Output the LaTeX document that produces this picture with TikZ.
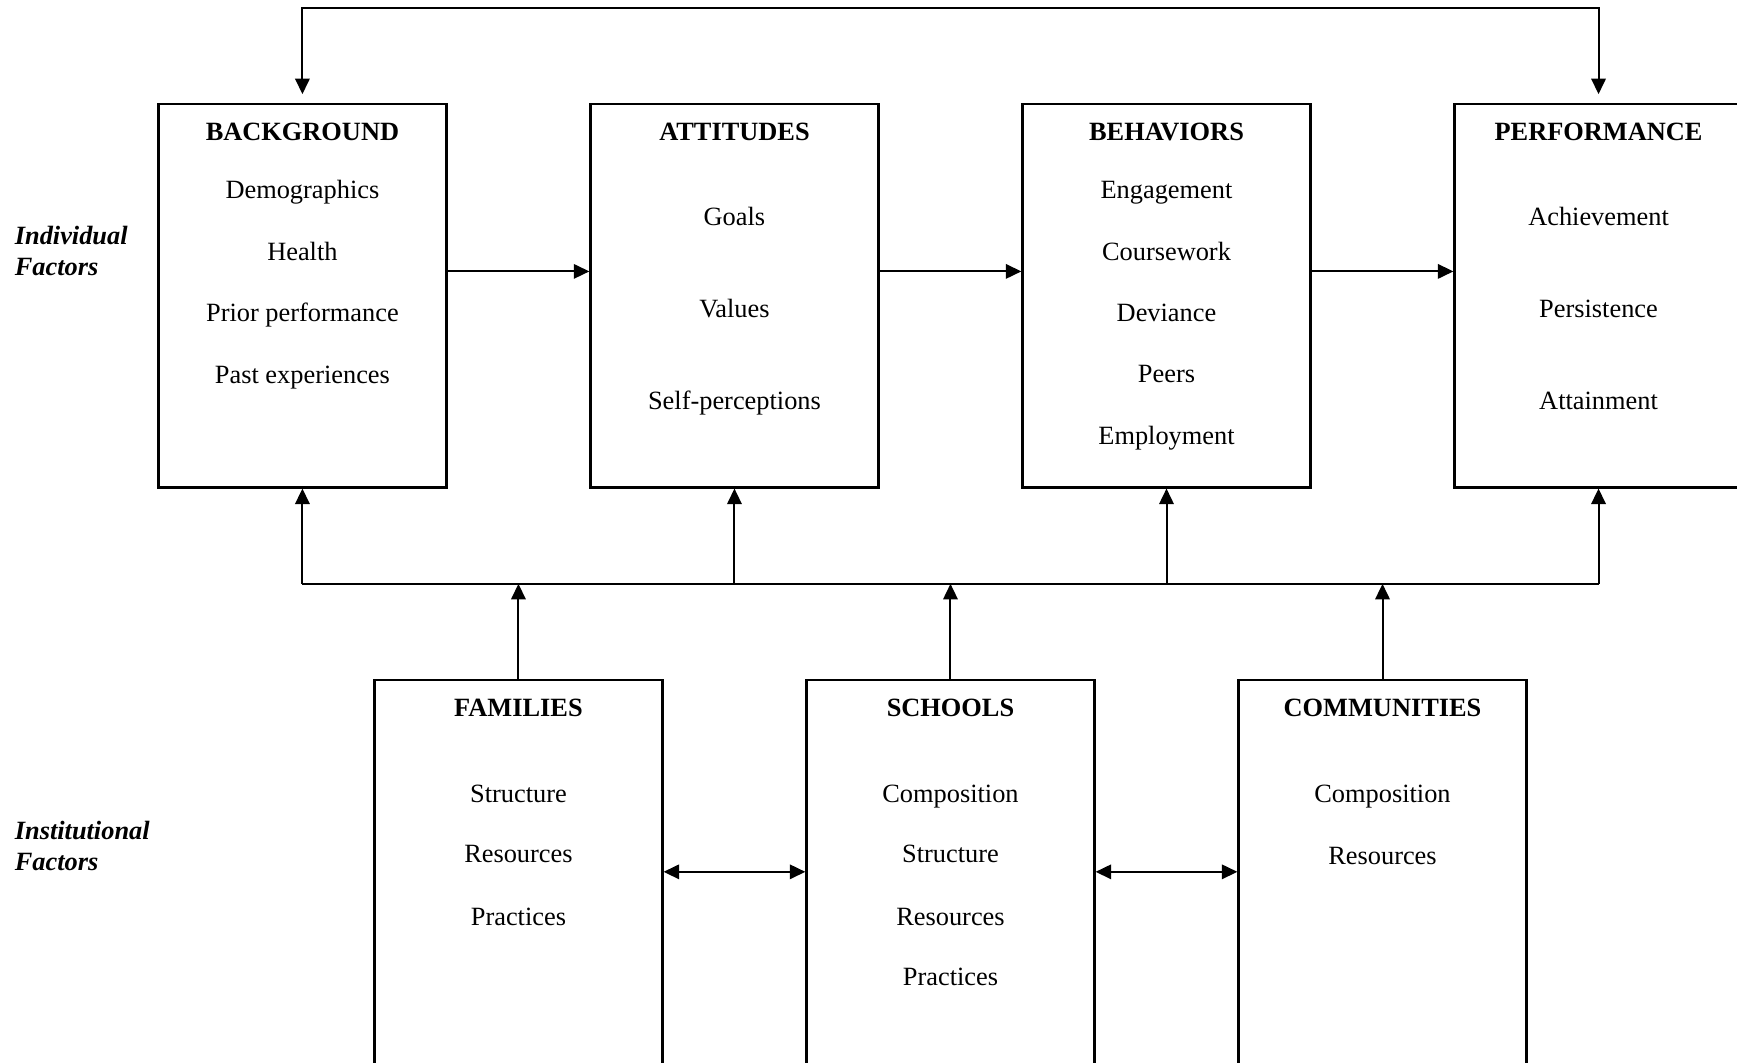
\documentclass[tikz,border=0pt]{standalone}
\usepackage{fontspec}
\setmainfont{Liberation Serif}
\usetikzlibrary{arrows.meta}
\begin{document}
\begin{tikzpicture}[x=0.5pt,y=-0.5pt,
  font=\fontsize{11.9}{14}\selectfont,
  topbox/.style={draw, line width=1pt, minimum width=130pt, minimum height=173pt, inner sep=0pt},
  botbox/.style={draw, line width=1pt, minimum width=130pt, minimum height=193pt, inner sep=0pt},
  txt/.style={anchor=base, inner sep=0pt},
  ttl/.style={anchor=base, inner sep=0pt, font=\fontsize{11.9}{14}\selectfont\bfseries},
  side/.style={anchor=base west, inner sep=0pt, font=\fontsize{11.9}{14}\selectfont\bfseries\itshape},
  line/.style={line width=0.9pt},
  arr/.style={line width=0.9pt, -{Triangle[length=7pt,width=6.5pt]}},
  darr/.style={line width=0.9pt, {Triangle[length=7pt,width=6.5pt]}-{Triangle[length=7pt,width=6.5pt]}}
]
\useasboundingbox (0,0) rectangle (1568,959);

% top boxes
\node[topbox] (bg) at (273,267) {};
\node[topbox] (att) at (663,267) {};
\node[topbox] (beh) at (1053,267) {};
\node[topbox] (perf) at (1443,267) {};

% bottom boxes
\node[botbox] (fam) at (468,807) {};
\node[botbox] (sch) at (858,807) {};
\node[botbox] (com) at (1248,807) {};

% texts: background
\node[ttl] (bgT) at (273,127) {BACKGROUND};
\node[txt] (bg1) at (273,179) {Demographics};
\node[txt] (bg2) at (273,235) {Health};
\node[txt] (bg3) at (273,290) {Prior performance};
\node[txt] (bg4) at (273,346) {Past experiences};
% attitudes
\node[ttl] (attT) at (663,127) {ATTITUDES};
\node[txt] (att1) at (663,204) {Goals};
\node[txt] (att2) at (663,287) {Values};
\node[txt] (att3) at (663,370) {Self-perceptions};
% behaviors
\node[ttl] (behT) at (1053,127) {BEHAVIORS};
\node[txt] (beh1) at (1053,179) {Engagement};
\node[txt] (beh2) at (1053,235) {Coursework};
\node[txt] (beh3) at (1053,290) {Deviance};
\node[txt] (beh4) at (1053,345) {Peers};
\node[txt] (beh5) at (1053,401) {Employment};
% performance
\node[ttl] (perfT) at (1443,127) {PERFORMANCE};
\node[txt] (perf1) at (1443,204) {Achievement};
\node[txt] (perf2) at (1443,287) {Persistence};
\node[txt] (perf3) at (1443,370) {Attainment};
% families
\node[ttl] (famT) at (468,647) {FAMILIES};
\node[txt] (fam1) at (468,724) {Structure};
\node[txt] (fam2) at (468,779) {Resources};
\node[txt] (fam3) at (468,835) {Practices};
% schools
\node[ttl] (schT) at (858,647) {SCHOOLS};
\node[txt] (sch1) at (858,724) {Composition};
\node[txt] (sch2) at (858,779) {Structure};
\node[txt] (sch3) at (858,835) {Resources};
\node[txt] (sch4) at (858,890) {Practices};
% communities
\node[ttl] (comT) at (1248,647) {COMMUNITIES};
\node[txt] (com1) at (1248,724) {Composition};
\node[txt] (com2) at (1248,780) {Resources};

% side labels
\node[side] (ind1) at (13,221) {Individual};
\node[side] (ind2) at (13,249) {Factors};
\node[side] (ins1) at (13,758) {Institutional};
\node[side] (ins2) at (13,786) {Factors};

% coordinates
\coordinate (topL) at (273,7);
\coordinate (topR) at (1443,7);
\coordinate (busL) at (273,527);
\coordinate (busR) at (1443,527);
\coordinate (h) at (0,245);
\coordinate (hb) at (0,787);

% feedback loop
\draw[darr, shorten <=4pt, shorten >=4pt] (bg.north) -- (topL) -- (topR) -- (perf.north);

% horizontal arrows
\draw[arr] (bg.east |- h) -- (att.west |- h);
\draw[arr] (att.east |- h) -- (beh.west |- h);
\draw[arr] (beh.east |- h) -- (perf.west |- h);

% bus
\draw[line] (busL) -- (busR);
\draw[arr] (busL) -- (bg.south);
\draw[arr] (att.south |- busL) -- (att.south);
\draw[arr] (beh.south |- busL) -- (beh.south);
\draw[arr] (busR) -- (perf.south);
\draw[arr] (fam.north) -- (fam.north |- busL);
\draw[arr] (sch.north) -- (sch.north |- busL);
\draw[arr] (com.north) -- (com.north |- busL);

% bidirectional
\draw[darr] (fam.east |- hb) -- (sch.west |- hb);
\draw[darr] (sch.east |- hb) -- (com.west |- hb);
\end{tikzpicture}
\end{document}
